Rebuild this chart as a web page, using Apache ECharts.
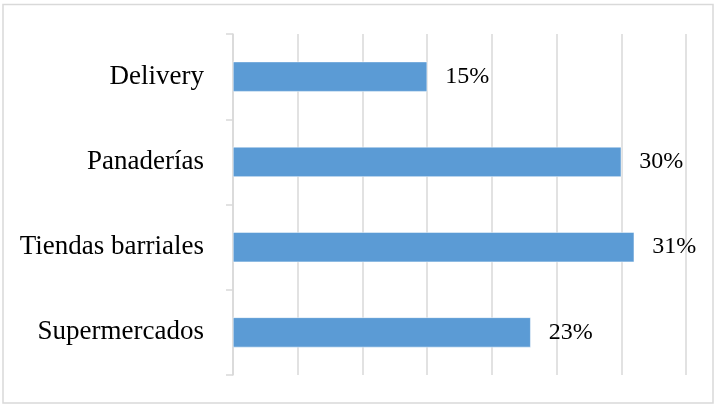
<!DOCTYPE html>
<html>
<head>
<meta charset="utf-8">
<script src="https://cdn.jsdelivr.net/npm/echarts@6/dist/echarts.min.js"></script>
<style>
  html, body { margin: 0; padding: 0; background: #ffffff; }
  #chart { width: 715px; height: 405px; }
</style>
</head>
<body>
<div id="chart"></div>
<script>
// Channels, listed bottom to top as the category axis draws them
const categories = ['Supermercados', 'Tiendas barriales', 'Panaderías', 'Delivery'];
// Share of each channel, in percent
const shares = [23, 31, 30, 15];

const chart = echarts.init(document.getElementById('chart'), null, { renderer: 'canvas' });

const serif = '"Liberation Serif", "Times New Roman", serif';

chart.setOption({
  backgroundColor: '#ffffff',
  animation: false,
  graphic: [{
    type: 'rect',
    shape: { x: 3, y: 4.5, width: 710, height: 398.5 },
    style: { fill: 'none', stroke: '#d9d9d9', lineWidth: 1.5 },
    silent: true
  }],
  grid: { left: 233, right: 29, top: 34, bottom: 30, containLabel: false },
  xAxis: {
    type: 'value',
    min: 0,
    max: 35,
    interval: 5,
    axisLine: { show: false },
    axisTick: { show: false },
    axisLabel: { show: false },
    splitLine: { show: true, lineStyle: { color: '#d9d9d9', width: 1.5 } }
  },
  yAxis: {
    type: 'category',
    data: categories,
    axisLine: { show: true, lineStyle: { color: '#d9d9d9', width: 1.5 } },
    axisTick: { show: true, length: 7, lineStyle: { color: '#d9d9d9', width: 1.5 } },
    axisLabel: {
      margin: 29,
      color: '#000000',
      fontFamily: serif,
      fontSize: 27
    },
    splitLine: { show: false }
  },
  series: [{
    type: 'bar',
    data: shares,
    barWidth: 30,
    itemStyle: { color: '#5b9bd5', borderColor: '#ffffff', borderWidth: 0.5 },
    label: {
      show: true,
      position: 'right',
      distance: 18,
      formatter: p => p.value + '%',
      color: '#000000',
      fontFamily: serif,
      fontSize: 24
    }
  }]
});
</script>
</body>
</html>
